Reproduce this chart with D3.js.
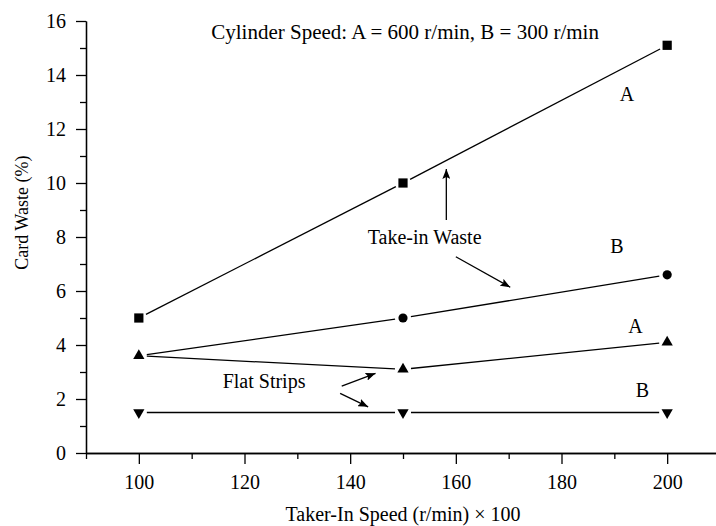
<!DOCTYPE html>
<html>
<head>
<meta charset="utf-8">
<script src="https://cdn.jsdelivr.net/npm/d3@7"></script>
<style>
  body { margin: 0; background: #fff; }
  .axis path, .axis line { stroke: #000; stroke-width: 1.3; }
</style>
</head>
<body>
<svg class="chart-svg"></svg>
<script>
// taker-in speed (x 100 r/min) and card waste values (%)
const speeds = [100, 150, 200];
const takeInA = [5.0, 10.0, 15.1];   // squares
const takeInB = [3.6, 5.0, 6.6];     // circles (first point sits on the flat strip A triangle)
const flatA = [3.6, 3.1, 4.1];       // up triangles
const flatB = [1.5, 1.5, 1.5];       // down triangles

const xMajor = [100, 120, 140, 160, 180, 200];
const xMinor = [90, 110, 130, 150, 170, 190, 210];
const yMajor = [0, 2, 4, 6, 8, 10, 12, 14, 16];
const yMinor = [1, 3, 5, 7, 9, 11, 13, 15];

// annotation text, placed in data units
const labels = [
  { text: 'Take-in Waste', x: 154.1, y: 7.74 },
  { text: 'Flat Strips', x: 123.7, y: 2.41 },
  { text: 'A', x: 192.4, y: 13.04 },
  { text: 'B', x: 190.5, y: 7.41 },
  { text: 'A', x: 194.0, y: 4.44 },
  { text: 'B', x: 195.3, y: 2.07 }
];
const arrows = [
  { x1: 158.2, y1: 8.63, x2: 158.2, y2: 10.52 },
  { x1: 160.0, y1: 7.27, x2: 170.3, y2: 6.14 },
  { x1: 138.4, y1: 2.48, x2: 144.8, y2: 2.95 },
  { x1: 138.1, y1: 2.21, x2: 143.4, y2: 1.71 }
];

const serif = '"Liberation Serif", "Times New Roman", serif';
const width = 716;
const height = 526;

const svg = d3.select('.chart-svg')
  .attr('width', width)
  .attr('height', height);

const x = d3.scaleLinear().domain([90, 210]).range([86, 720]);
const y = d3.scaleLinear().domain([0, 16]).range([453, 21]);

// x axis: minor ticks first, then labelled major ticks
svg.append('g')
  .attr('class', 'axis')
  .attr('transform', `translate(0,${y(0)})`)
  .call(d3.axisBottom(x).tickValues(xMinor).tickSize(6).tickSizeOuter(0).tickFormat(''));

svg.append('g')
  .attr('class', 'axis')
  .attr('transform', `translate(0,${y(0)})`)
  .call(d3.axisBottom(x).tickValues(xMajor).tickSize(11).tickSizeOuter(0).tickPadding(11))
  .attr('font-family', serif)
  .attr('font-size', 20);

// y axis
svg.append('g')
  .attr('class', 'axis')
  .attr('transform', `translate(${x(90)},0)`)
  .call(d3.axisLeft(y).tickValues(yMinor).tickSize(6).tickSizeOuter(0).tickFormat(''));

svg.append('g')
  .attr('class', 'axis')
  .attr('transform', `translate(${x(90)},0)`)
  .call(d3.axisLeft(y).tickValues(yMajor).tickSize(10).tickSizeOuter(0).tickPadding(10))
  .attr('font-family', serif)
  .attr('font-size', 20);

// axis titles
svg.append('text')
  .attr('x', x(150))
  .attr('y', 521)
  .attr('text-anchor', 'middle')
  .attr('font-family', serif)
  .attr('font-size', 20)
  .text('Taker-In Speed (r/min) \u00d7 100');

svg.append('text')
  .attr('transform', `translate(28,${y(8.9)}) rotate(-90)`)
  .attr('text-anchor', 'middle')
  .attr('font-family', serif)
  .attr('font-size', 18)
  .text('Card Waste (%)');

svg.append('text')
  .attr('x', x(150.4))
  .attr('y', y(15.33))
  .attr('text-anchor', 'middle')
  .attr('font-family', serif)
  .attr('font-size', 21)
  .text('Cylinder Speed: A = 600 r/min, B = 300 r/min');

// lines stop a little short of each marker
const gap = 8;
function drawLine(values) {
  for (let i = 0; i < values.length - 1; i++) {
    const x0 = x(speeds[i]), y0 = y(values[i]);
    const x1 = x(speeds[i + 1]), y1 = y(values[i + 1]);
    const len = Math.hypot(x1 - x0, y1 - y0);
    const ux = (x1 - x0) / len, uy = (y1 - y0) / len;
    svg.append('line')
      .attr('x1', x0 + ux * gap).attr('y1', y0 + uy * gap)
      .attr('x2', x1 - ux * gap).attr('y2', y1 - uy * gap)
      .attr('stroke', 'black')
      .attr('stroke-width', 1.3);
  }
}
drawLine(takeInA);
drawLine(takeInB);
drawLine(flatA);
drawLine(flatB);

function drawMarkers(values, type, size, rotate, skipFirst) {
  svg.selectAll(null)
    .data(values.map((v, i) => ({ s: speeds[i], v: v, i: i })).filter(d => !(skipFirst && d.i === 0)))
    .enter()
    .append('path')
    .attr('d', d3.symbol().type(type).size(size))
    .attr('transform', d => `translate(${x(d.s)},${y(d.v)}) rotate(${rotate})`)
    .attr('fill', 'black');
}
drawMarkers(takeInA, d3.symbolSquare, 85, 0, false);
drawMarkers(takeInB, d3.symbolCircle, 66, 0, true);
drawMarkers(flatA, d3.symbolTriangle, 55, 0, false);
drawMarkers(flatB, d3.symbolTriangle, 55, 180, false);

// annotations
svg.append('defs').append('marker')
  .attr('id', 'head')
  .attr('viewBox', '0 0 10 8')
  .attr('refX', 10)
  .attr('refY', 4)
  .attr('markerWidth', 10)
  .attr('markerHeight', 8)
  .attr('markerUnits', 'userSpaceOnUse')
  .attr('orient', 'auto')
  .append('path')
  .attr('d', 'M0,0 L10,4 L0,8 L2,4 Z')
  .attr('fill', 'black');

svg.selectAll('.arrow')
  .data(arrows)
  .enter()
  .append('line')
  .attr('class', 'arrow')
  .attr('x1', d => x(d.x1)).attr('y1', d => y(d.y1))
  .attr('x2', d => x(d.x2)).attr('y2', d => y(d.y2))
  .attr('stroke', 'black')
  .attr('stroke-width', 1.3)
  .attr('marker-end', 'url(#head)');

svg.selectAll('.label')
  .data(labels)
  .enter()
  .append('text')
  .attr('class', 'label')
  .attr('x', d => x(d.x))
  .attr('y', d => y(d.y))
  .attr('text-anchor', 'middle')
  .attr('font-family', serif)
  .attr('font-size', 20)
  .text(d => d.text);
</script>
</body>
</html>
